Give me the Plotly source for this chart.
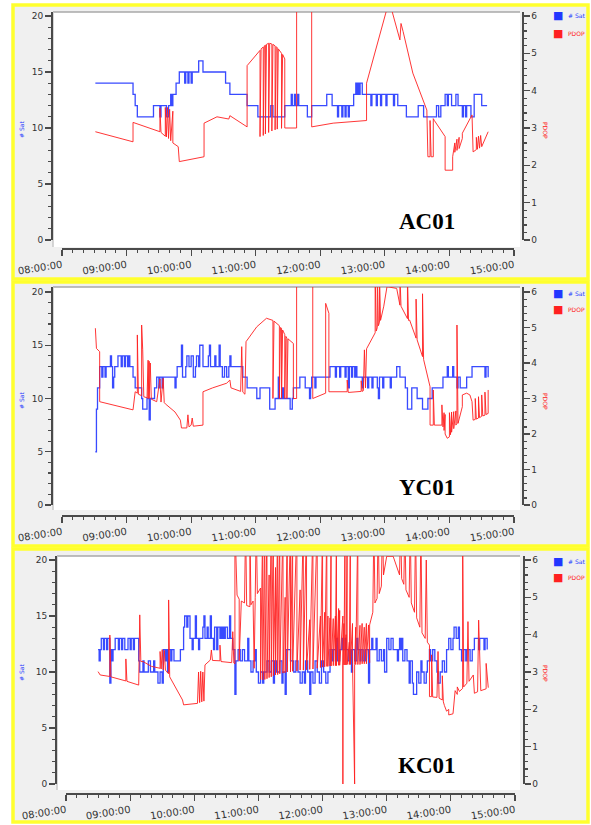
import plotly.graph_objects as go

DAY = "2021-03-15 "

stations = ["AC01", "YC01", "KC01"]
x_tick_labels = ["08:00:00", "09:00:00", "10:00:00", "11:00:00",
                 "12:00:00", "13:00:00", "14:00:00", "15:00:00"]
sat_ticks = [0, 5, 10, 15, 20]
pdop_ticks = [0, 1, 2, 3, 4, 5, 6]

# ---------------- AC01 ----------------
ac01_sat = [("08:31",14),("09:06",13),("09:08",12),("09:10",11),("09:25",12),("09:31",11),("09:32",12),
    ("09:37",11),("09:39",12),("09:41",13),("09:42",12),("09:43",13),("09:46",14),("09:49",15),("09:54",14),
    ("09:55",15),("09:57",14),("09:58",15),("10:00",14),("10:01",15),("10:07",16),("10:11",15),("10:32",14),
    ("10:36",13),("10:52",12),("11:02",11),("11:14",12),("11:16",11),("11:27",12),("11:33",13),("11:34",12),
    ("11:36",13),("11:37",12),("11:39",13),("11:40",12),("11:48",11),("11:52",12),("12:06",13),("12:11",12),
    ("12:16",11),("12:17",12),("12:20",11),("12:21",12),("12:23",11),("12:24",12),("12:26",11),("12:27",12),
    ("12:31",13),("12:33",14),("12:34",13),("12:35",14),("12:36",13),("12:37",14),("12:39",13),("12:47",12),
    ("12:48",13),("12:52",12),("12:53",13),("12:56",12),("12:57",13),("13:01",12),("13:02",13),("13:08",12),
    ("13:09",13),("13:12",12),("13:20",11),("13:31",12),("13:36",11),("13:48",12),("13:50",11),("13:52",12),
    ("13:56",13),("13:58",12),("13:59",13),("14:02",12),("14:06",13),("14:08",12),("14:12",11),("14:13",12),
    ("14:15",11),("14:16",12),("14:20",11),("14:23",13),("14:30",12),("14:35",12)]

ac01_pdop = [("08:31",2.90),("09:06",2.63),("09:06",3.15),("09:31",2.90),("09:31",3.53),("09:32",2.88),
    ("09:36",2.78),("09:36",3.55),("09:37",2.76),("09:38",3.55),("09:39",2.72),("09:40",3.50),("09:41",2.66),
    ("09:43",3.45),("09:43",2.60),("09:48",2.50),("09:49",2.10),("10:12",2.23),("10:12",3.13),("10:24",3.30),
    ("10:35",3.24),("10:36",3.33),("10:52",3.03),("10:52",4.67),("11:04",5.08),("11:04",2.77),("11:05",5.12),
    ("11:07",5.17),("11:07",2.80),("11:08",5.20),("11:09",5.22),("11:09",2.84),("11:10",5.24),("11:12",5.27),
    ("11:12",2.88),("11:13",5.27),("11:15",5.25),("11:15",2.92),("11:16",5.24),("11:18",5.20),("11:18",2.95),
    ("11:19",5.18),("11:20",5.15),("11:20",2.97),("11:21",5.12),("11:24",5.00),("11:24",2.99),("11:25",4.97),
    ("11:27",4.85),("11:27",3.00),("11:38",3.00),("11:38",7.5),("11:52",7.5),("11:52",3.03),("12:12",3.13),
    ("12:43",3.20),("12:43",4.20),("13:02",6.2),("13:06",6.2),("13:14",5.36),("13:15",5.80),("13:17",5.58),
    ("13:26",4.47),("13:39",3.48),("13:40",2.23),("13:42",2.23),("13:42",3.20),("13:43",2.23),("13:45",2.23),
    ("13:45",3.25),("13:46",3.20),("13:56",2.77),("13:56",1.87),("14:03",1.87),("14:03",2.23),("14:05",2.60),
    ("14:05",2.35),("14:07",2.70),("14:07",2.40),("14:09",2.75),("14:09",2.45),("14:12",2.72),("14:12",2.86),
    ("14:21",3.35),("14:22",2.36),("14:25",2.42),("14:25",2.75),("14:26",2.43),("14:27",2.78),("14:28",2.46),
    ("14:29",2.80),("14:30",2.50),("14:36",2.90)]

# ---------------- YC01 ----------------
yc01_sat = [("08:31",5),("08:32",9),("08:33",11),("08:35",13),("08:37",12),("08:38",13),("08:40",12),
    ("08:41",13),("08:45",14),("08:46",13),("08:47",11),("08:48",12),("08:49",13),("08:52",14),("08:55",13),
    ("08:56",14),("08:58",13),("08:59",14),("09:01",13),("09:02",14),("09:03",13),("09:06",12),("09:08",11),
    ("09:14",10),("09:15",9),("09:19",10),("09:21",8),("09:22",10),("09:26",11),("09:28",12),("09:30",11),
    ("09:31",12),("09:33",11),("09:34",12),("09:45",11),("09:46",12),("09:47",13),("09:51",15),("09:52",12),
    ("09:55",13),("09:56",14),("09:58",13),("10:00",14),("10:02",12),("10:04",13),("10:05",14),("10:07",13),
    ("10:08",15),("10:11",13),("10:16",14),("10:17",15),("10:18",13),("10:22",14),("10:23",13),("10:26",15),
    ("10:27",13),("10:29",12),("10:31",13),("10:33",12),("10:35",13),("10:36",14),("10:37",13),("10:48",12),
    ("10:52",11),("11:01",10),("11:04",11),("11:13",9),("11:18",10),("11:21",12),("11:22",10),("11:25",11),
    ("11:26",10),("11:32",9),("11:34",10),("11:35",11),("11:41",12),("11:46",11),("11:50",10),("11:51",11),
    ("11:52",12),("11:55",11),("11:56",12),("12:09",13),("12:14",12),("12:15",13),("12:18",12),("12:19",13),
    ("12:23",12),("12:24",13),("12:26",11),("12:27",13),("12:29",12),("12:30",13),("12:32",12),("12:33",13),
    ("12:34",12),("12:39",11),("12:40",12),("12:44",11),("12:45",12),("12:48",11),("12:49",12),("12:53",11),
    ("12:54",10),("12:55",12),("12:58",11),("12:59",12),("13:05",11),("13:06",12),("13:11",13),("13:14",12),
    ("13:19",11),("13:21",9),("13:25",11),("13:30",10),("13:35",9),("13:40",10),("13:44",11),("13:54",12),
    ("13:58",13),("13:59",12),("14:03",13),("14:04",12),("14:07",11),("14:08",12),("14:10",11),("14:16",12),
    ("14:21",13),("14:33",12),("14:34",13),("14:36",12)]

yc01_pdop = [("08:31",4.98),("08:32",4.41),("08:35",4.32),("08:35",2.91),("09:06",2.68),("09:08",3.19),
    ("09:10",3.15),("09:10",4.79),("09:11",3.12),("09:14",3.08),("09:14",5.07),("09:15",4.37),("09:16",3.05),
    ("09:19",3.02),("09:20",4.08),("09:20",3.00),("09:21",4.05),("09:21",3.00),("09:22",4.00),("09:23",2.98),
    ("09:28",2.91),("09:31",3.55),("09:32",2.90),("09:34",3.57),("09:35",2.88),("09:36",2.85),("09:45",2.62),
    ("09:50",2.39),("09:51",2.17),("09:56",2.17),("09:57",2.54),("09:58",2.20),("10:00",2.25),("10:01",2.45),
    ("10:02",2.22),("10:11",2.25),("10:11",3.19),("10:20",3.30),("10:33",3.43),("10:36",3.52),("10:37",3.30),
    ("10:46",3.20),("10:47",4.46),("10:48",3.18),("10:50",3.12),("10:51",4.60),("11:01",5.02),("11:10",5.26),
    ("11:16",5.20),("11:16",3.00),("11:17",5.18),("11:22",5.05),("11:22",3.00),("11:23",5.00),("11:24",4.98),
    ("11:24",3.00),("11:25",4.93),("11:27",4.80),("11:27",3.00),("11:28",4.75),("11:29",4.70),("11:29",3.00),
    ("11:30",4.68),("11:35",4.55),("11:35",3.00),("11:38",3.00),("11:38",7.5),("11:53",7.5),("11:53",3.00),
    ("12:05",3.15),("12:05",5.68),("12:07",5.49),("12:08",5.40),("12:08",3.19),("12:25",3.19),("12:25",3.52),
    ("12:26",3.17),("12:38",3.20),("12:38",3.50),("12:39",3.20),("12:40",3.22),("12:41",4.37),("12:42",3.30),
    ("12:43",4.40),("12:44",4.46),("12:51",4.85),("12:51",6.5),("12:52",4.90),("12:53",5.00),("12:53",6.5),
    ("12:54",5.05),("12:55",5.15),("12:55",6.5),("12:56",5.20),("12:59",5.60),("13:02",6.15),("13:11",6.10),
    ("13:14",5.63),("13:14",6.5),("13:15",5.60),("13:21",5.25),("13:21",6.5),("13:22",5.20),("13:23",5.21),
    ("13:29",4.70),("13:29",5.80),("13:30",4.65),("13:35",4.18),("13:35",5.95),("13:36",4.10),("13:42",3.33),
    ("13:42",2.25),("13:45",2.25),("13:45",3.24),("13:46",2.25),("13:53",2.25),("13:53",2.82),("13:54",2.20),
    ("13:55",2.60),("13:55",2.10),("13:56",2.55),("13:56",2.00),("13:58",1.88),("14:00",1.92),("14:00",2.60),
    ("14:01",1.98),("14:02",2.62),("14:02",2.05),("14:04",2.63),("14:04",2.15),("14:06",2.65),("14:06",2.25),
    ("14:07",2.30),("14:07",5.07),("14:08",2.30),("14:12",2.77),("14:12",3.10),("14:16",3.15),("14:19",3.10),
    ("14:21",2.91),("14:22",2.39),("14:24",2.41),("14:24",3.00),("14:25",2.42),("14:27",2.45),("14:27",3.05),
    ("14:28",2.46),("14:30",2.50),("14:30",3.10),("14:31",2.51),("14:33",2.53),("14:33",3.18),("14:34",2.55),
    ("14:36",2.58),("14:36",3.24)]

# ---------------- KC01 ----------------
kc01_sat = [("08:30",12),("08:31",11),("08:32",12),("08:33",13),("08:35",12),("08:36",13),("08:38",12),
    ("08:39",13),("08:41",9),("08:42",12),("08:43",11),("08:44",12),("08:46",13),("08:49",12),("08:50",13),
    ("08:52",12),("08:53",13),("08:55",12),("08:58",13),("09:00",12),("09:01",13),("09:03",12),("09:04",13),
    ("09:08",11),("09:09",10),("09:12",11),("09:13",10),("09:17",11),("09:19",10),("09:22",11),("09:23",10),
    ("09:26",9),("09:28",10),("09:30",9),("09:31",12),("09:33",11),("09:34",12),("09:35",10),("09:36",12),
    ("09:38",11),("09:39",12),("09:41",11),("09:47",12),("09:50",14),("09:51",15),("09:53",14),("09:54",15),
    ("09:56",13),("09:58",12),("09:59",13),("10:01",15),("10:02",13),("10:04",12),("10:05",13),("10:08",14),
    ("10:09",15),("10:10",13),("10:12",14),("10:13",13),("10:15",15),("10:16",13),("10:18",12),("10:19",14),
    ("10:21",12),("10:22",14),("10:24",13),("10:25",14),("10:26",13),("10:27",14),("10:28",13),("10:29",14),
    ("10:31",13),("10:33",15),("10:34",13),("10:36",12),("10:38",8),("10:39",11),("10:41",12),("10:43",11),
    ("10:45",12),("10:47",11),("10:50",13),("10:51",11),("10:53",10),("10:55",11),("10:57",12),("10:58",10),
    ("11:00",9),("11:02",10),("11:04",9),("11:05",10),("11:08",11),("11:10",10),("11:12",11),("11:14",9),
    ("11:15",11),("11:17",10),("11:20",11),("11:22",9),("11:23",10),("11:25",8),("11:26",12),("11:30",11),
    ("11:33",10),("11:35",11),("11:37",10),("11:39",9),("11:41",10),("11:43",9),("11:44",11),("11:46",10),
    ("11:48",8),("11:49",10),("11:51",9),("11:53",11),("11:55",10),("11:57",9),("11:59",11),("12:01",10),
    ("12:03",9),("12:05",10),("12:07",12),("12:09",11),("12:10",12),("12:12",11),("12:13",13),("12:14",11),
    ("12:16",12),("12:18",13),("12:19",12),("12:21",13),("12:22",12),("12:24",11),("12:26",12),("12:27",10),
    ("12:28",12),("12:30",11),("12:32",13),("12:33",12),("12:35",11),("12:36",12),("12:38",11),("12:40",12),
    ("12:43",9),("12:44",12),("12:46",13),("12:47",12),("12:50",13),("12:51",11),("12:53",12),("12:55",11),
    ("12:57",12),("12:58",10),("13:00",13),("13:02",12),("13:04",13),("13:06",12),("13:10",11),("13:11",12),
    ("13:12",13),("13:13",12),("13:14",13),("13:15",11),("13:17",12),("13:19",11),("13:21",9),("13:22",11),
    ("13:24",9),("13:25",8),("13:28",10),("13:30",9),("13:32",11),("13:33",10),("13:35",9),("13:37",10),
    ("13:38",11),("13:40",12),("13:41",11),("13:43",12),("13:45",11),("13:47",10),("13:48",9),("13:50",10),
    ("13:52",11),("13:54",10),("13:56",12),("13:58",13),("14:00",12),("14:02",13),("14:03",14),("14:05",13),
    ("14:07",14),("14:08",12),("14:10",11),("14:12",12),("14:14",11),("14:15",12),("14:18",11),("14:20",12),
    ("14:22",13),("14:26",12),("14:27",13),("14:31",12),("14:32",13),("14:34",12)]

kc01_pdop = [("08:30",3.01),("08:32",2.92),("08:41",2.88),("08:41",3.99),("08:42",2.87),("08:56",2.76),
    ("08:56",3.35),("08:57",2.75),("09:08",2.65),("09:09",4.53),("09:10",3.28),("09:12",3.28),("09:20",3.15),
    ("09:28",3.10),("09:28",3.55),("09:29",3.08),("09:30",3.60),("09:31",3.06),("09:32",3.58),("09:33",3.05),
    ("09:36",2.95),("09:36",4.93),("09:37",2.87),("09:49",2.25),("09:50",2.12),("10:03",2.16),("10:04",3.00),
    ("10:05",2.18),("10:06",3.02),("10:07",2.20),("10:08",3.00),("10:09",2.22),("10:10",3.19),("10:15",3.32),
    ("10:16",3.59),("10:17",3.31),("10:24",3.30),("10:24",3.72),("10:25",3.28),("10:35",3.25),("10:36",4.08),
    ("10:37",3.24),("10:38",3.22),("10:38",7.0),("10:40",5.06),("10:42",4.95),("10:42",3.30),("10:44",4.90),
    ("10:47",4.85),("10:48",7.0),("10:49",4.78),("10:52",4.75),("10:52",7.0),("10:53",4.80),("10:55",4.90),
    ("10:56",3.10),("10:57",5.00),("10:58",7.0),("10:59",5.10),("11:02",5.25),("11:02",2.80),("11:03",5.30),
    ("11:04",7.0),("11:04",2.79),("11:06",7.0),("11:06",2.80),("11:08",7.0),("11:08",2.82),("11:10",5.60),
    ("11:10",2.85),("11:12",7.0),("11:12",2.87),("11:14",7.0),("11:14",2.90),("11:16",5.80),("11:16",2.92),
    ("11:18",7.0),("11:18",2.93),("11:20",7.0),("11:20",2.95),("11:23",7.0),("11:23",2.97),("11:25",5.00),
    ("11:25",2.98),("11:27",7.0),("11:27",3.00),("11:30",7.0),("11:30",3.00),("11:32",7.0),("11:32",3.02),
    ("11:36",7.0),("11:36",3.03),("11:39",5.20),("11:39",3.05),("11:42",7.0),("11:42",3.05),("11:45",7.0),
    ("11:45",3.06),("11:48",4.40),("11:48",3.07),("11:51",7.0),("11:51",3.08),("11:55",7.0),("11:55",3.10),
    ("11:58",4.50),("11:58",3.12),("12:00",7.0),("12:00",3.13),("12:02",4.60),("12:02",3.14),("12:04",7.0),
    ("12:04",3.15),("12:05",4.50),("12:05",3.15),("12:07",4.45),("12:07",3.16),("12:08",7.0),("12:08",3.16),
    ("12:10",4.43),("12:10",3.17),("12:12",4.50),("12:12",3.17),("12:13",7.0),("12:13",3.17),("12:15",4.70),
    ("12:15",3.18),("12:16",4.65),("12:16",3.18),("12:19",4.50),("12:19",0.0),("12:19",3.18),("12:20",4.30),
    ("12:20",3.19),("12:21",7.0),("12:21",3.19),("12:22",4.00),("12:22",3.19),("12:23",7.0),("12:23",3.20),
    ("12:25",3.80),("12:25",3.20),("12:26",7.0),("12:26",3.20),("12:28",4.30),("12:28",3.20),("12:30",0.0),
    ("12:30",3.20),("12:31",4.20),("12:31",3.20),("12:33",7.0),("12:33",3.20),("12:35",4.25),("12:35",3.20),
    ("12:37",4.30),("12:37",3.22),("12:39",4.20),("12:39",3.22),("12:41",4.30),("12:41",3.22),("12:43",4.26),
    ("12:44",3.25),("12:44",4.26),("12:47",4.60),("12:48",7.0),("12:49",4.85),("12:51",4.97),("12:52",7.0),
    ("12:53",5.10),("12:55",5.30),("12:56",7.0),("12:57",5.60),("13:00",6.10),("13:06",6.10),("13:12",5.60),
    ("13:13",7.0),("13:14",5.50),("13:16",5.35),("13:17",7.0),("13:18",5.20),("13:21",5.00),("13:22",7.0),
    ("13:23",4.85),("13:26",4.60),("13:27",7.0),("13:28",4.45),("13:31",4.20),("13:32",7.0),("13:33",4.05),
    ("13:36",3.90),("13:37",6.00),("13:38",3.80),("13:40",3.72),("13:40",2.34),("13:42",2.34),("13:42",3.46),
    ("13:43",2.33),("13:47",2.32),("13:48",3.55),("13:49",2.30),("13:52",2.25),("13:52",2.90),("13:53",2.20),
    ("13:54",2.10),("13:56",1.95),("13:58",2.00),("13:58",1.85),("14:02",1.88),("14:03",2.20),("14:04",2.35),
    ("14:04",2.50),("14:06",2.40),("14:06",2.60),("14:08",2.48),("14:11",2.56),("14:11",7.0),("14:12",2.60),
    ("14:15",2.70),("14:16",4.35),("14:17",2.75),("14:20",2.90),("14:21",2.92),("14:22",2.43),("14:25",2.47),
    ("14:26",4.39),("14:27",3.05),("14:28",2.50),("14:31",2.53),("14:33",2.55),("14:33",3.23),("14:35",2.58)]

series = [(ac01_sat, ac01_pdop), (yc01_sat, yc01_pdop), (kc01_sat, kc01_pdop)]

# ---------------- layout geometry (pixels) ----------------
W, H = 591, 825
def fx(p): return p / W
def fy(p): return 1 - p / H

panels = [
    dict(border=(13, 5, 588, 279), white=(53, 12, 520, 247), xdom=(62, 514), ydom=(12, 240), y20=16,
         xline=248, yl=51, yr=522, label_y=222, leg_y=(15, 33), title_y=130),
    dict(border=(13, 282, 588, 546), white=(53, 287, 520, 510), xdom=(62, 514), ydom=(287, 505), y20=292,
         xline=515, yl=51, yr=522, label_y=487, leg_y=(293, 309), title_y=401),
    dict(border=(13, 549, 588, 822), white=(57, 556, 520, 790), xdom=(66, 515), ydom=(556, 784), y20=560,
         xline=793, yl=55, yr=523, label_y=765, leg_y=(561, 577), title_y=673),
]

BLUE = "#2236ff"
RED = "#ff2020"
AXC = "#4a4a4a"
YELLOW = "#ffff2e"
TICKF = dict(family="DejaVu Sans", size=9, color="#333333")
XTICKF = dict(family="DejaVu Sans", size=10, color="#333333")

fig = go.Figure()
shapes, annotations, axes = [], [], {}

for i, (g, (sat, pdop), name) in enumerate(zip(panels, series, stations)):
    xa = "x" if i == 0 else f"x{i+1}"
    yl = "y" if i == 0 else f"y{2*i+1}"
    yr = f"y{2*i+2}"

    fig.add_trace(go.Scatter(x=[DAY + t for t, _ in sat], y=[v for _, v in sat], mode="lines",
                             line=dict(color=BLUE, width=1.3, shape="hv"), name="# Sat", opacity=0.9,
                             xaxis=xa, yaxis=yl, showlegend=False))
    fig.add_trace(go.Scatter(x=[DAY + t for t, _ in pdop], y=[v for _, v in pdop], mode="lines",
                             line=dict(color=RED, width=1.0), name="PDOP", opacity=0.9,
                             xaxis=xa, yaxis=yr, showlegend=False))

    ratio = (g["ydom"][1] - g["ydom"][0]) / (g["ydom"][1] - g["y20"])
    xkey = "xaxis" if i == 0 else f"xaxis{i+1}"
    ylkey = "yaxis" if i == 0 else f"yaxis{2*i+1}"
    yrkey = f"yaxis{2*i+2}"

    axes[xkey] = dict(
        type="date", domain=[fx(g["xdom"][0]), fx(g["xdom"][1])], automargin=False,
        range=[DAY + "08:00", DAY + "15:00"], anchor="free", position=fy(g["xline"]),
        showline=True, linecolor=AXC, linewidth=1.5, showgrid=False, zeroline=False,
        ticks="outside", ticklen=6, tickwidth=1.2, tickcolor=AXC,
        tickvals=[DAY + s for s in x_tick_labels], ticktext=x_tick_labels,
        tickangle=-9, tickfont=XTICKF,
        minor=dict(dtick=600000, ticks="outside", ticklen=3, tickcolor=AXC, tickwidth=1, showgrid=False),
        fixedrange=True)
    axes[ylkey] = dict(
        domain=[fy(g["ydom"][1]), fy(g["ydom"][0])], range=[0, 20 * ratio], automargin=False,
        anchor="free", position=fx(g["yl"]), side="left",
        showline=True, linecolor=AXC, linewidth=1.5, showgrid=False, zeroline=False,
        ticks="outside", ticklen=6, tickwidth=1.2, tickcolor=AXC, tickvals=sat_ticks,
        tickfont=TICKF,
        minor=dict(dtick=1, tick0=0, ticks="outside", ticklen=3, tickcolor=AXC, showgrid=False),
        fixedrange=True)
    axes[yrkey] = dict(
        overlaying=yl, range=[0, 6 * ratio], anchor="free", position=fx(g["yr"]), side="right",
        automargin=False,
        showline=True, linecolor=AXC, linewidth=1.5, showgrid=False, zeroline=False,
        ticks="outside", ticklen=6, tickwidth=1.2, tickcolor=AXC, tickvals=pdop_ticks,
        tickfont=TICKF,
        minor=dict(dtick=0.2, tick0=0, ticks="outside", ticklen=3, tickcolor=AXC, showgrid=False),
        fixedrange=True)

    bx0, by0, bx1, by1 = g["border"]
    shapes.append(dict(type="rect", xref="paper", yref="paper", x0=fx(bx0), x1=fx(bx1),
                       y0=fy(by1), y1=fy(by0), fillcolor="#f0f0f0",
                       line=dict(color=YELLOW, width=3.5), layer="below"))
    wx0, wy0, wx1, wy1 = g["white"]
    shapes.append(dict(type="rect", xref="paper", yref="paper", x0=fx(wx0), x1=fx(wx1),
                       y0=fy(wy1), y1=fy(wy0), fillcolor="white", line=dict(width=0), layer="below"))
    shapes.append(dict(type="line", xref="paper", yref="paper", x0=fx(wx0), x1=fx(wx1),
                       y0=fy(wy0), y1=fy(wy0), line=dict(color="#a8a8a8", width=1.5), layer="below"))
    shapes.append(dict(type="line", xref="paper", yref="paper", x0=fx(wx0), x1=fx(wx0),
                       y0=fy(wy1), y1=fy(wy0), line=dict(color="#c8c8c8", width=1.5), layer="below"))

    # station label
    annotations.append(dict(text=f"<b>{name}</b>", xref="paper", yref="paper", x=fx(427),
                            y=fy(g["label_y"]), xanchor="center", yanchor="middle", showarrow=False,
                            font=dict(family="Liberation Serif", size=23, color="black")))
    # axis titles
    annotations.append(dict(text="# Sat", xref="paper", yref="paper", x=fx(21), y=fy(g["title_y"]),
                            textangle=-90, showarrow=False, xanchor="center", yanchor="middle",
                            font=dict(family="DejaVu Sans", size=6, color=BLUE)))
    annotations.append(dict(text="PDOP", xref="paper", yref="paper", x=fx(546), y=fy(g["title_y"]),
                            textangle=90, showarrow=False, xanchor="center", yanchor="middle",
                            font=dict(family="DejaVu Sans", size=6, color=RED)))
    # legend entries
    for (lab, col), ly in zip([("# Sat", BLUE), ("PDOP", RED)], g["leg_y"]):
        annotations.append(dict(text="■", xref="paper", yref="paper", x=fx(558), y=fy(ly),
                                xanchor="center", yanchor="middle", showarrow=False,
                                font=dict(family="DejaVu Sans", size=11, color=col)))
        annotations.append(dict(text=lab, xref="paper", yref="paper", x=fx(566), y=fy(ly),
                                xanchor="left", yanchor="middle", showarrow=False,
                                font=dict(family="DejaVu Sans", size=6, color=col)))

fig.update_layout(
    template="none",
    width=W, height=H, margin=dict(l=0, r=0, t=0, b=0, pad=0), autosize=False,
    paper_bgcolor="white", plot_bgcolor="rgba(0,0,0,0)",
    showlegend=False, shapes=shapes, annotations=annotations,
    font=dict(family="DejaVu Sans"),
    **axes)

fig.write_html("out.html", config={"displayModeBar": False, "staticPlot": True},
               post_script="document.body.style.margin='0';document.body.style.padding='0';"
                           "document.documentElement.style.overflow='hidden';")
